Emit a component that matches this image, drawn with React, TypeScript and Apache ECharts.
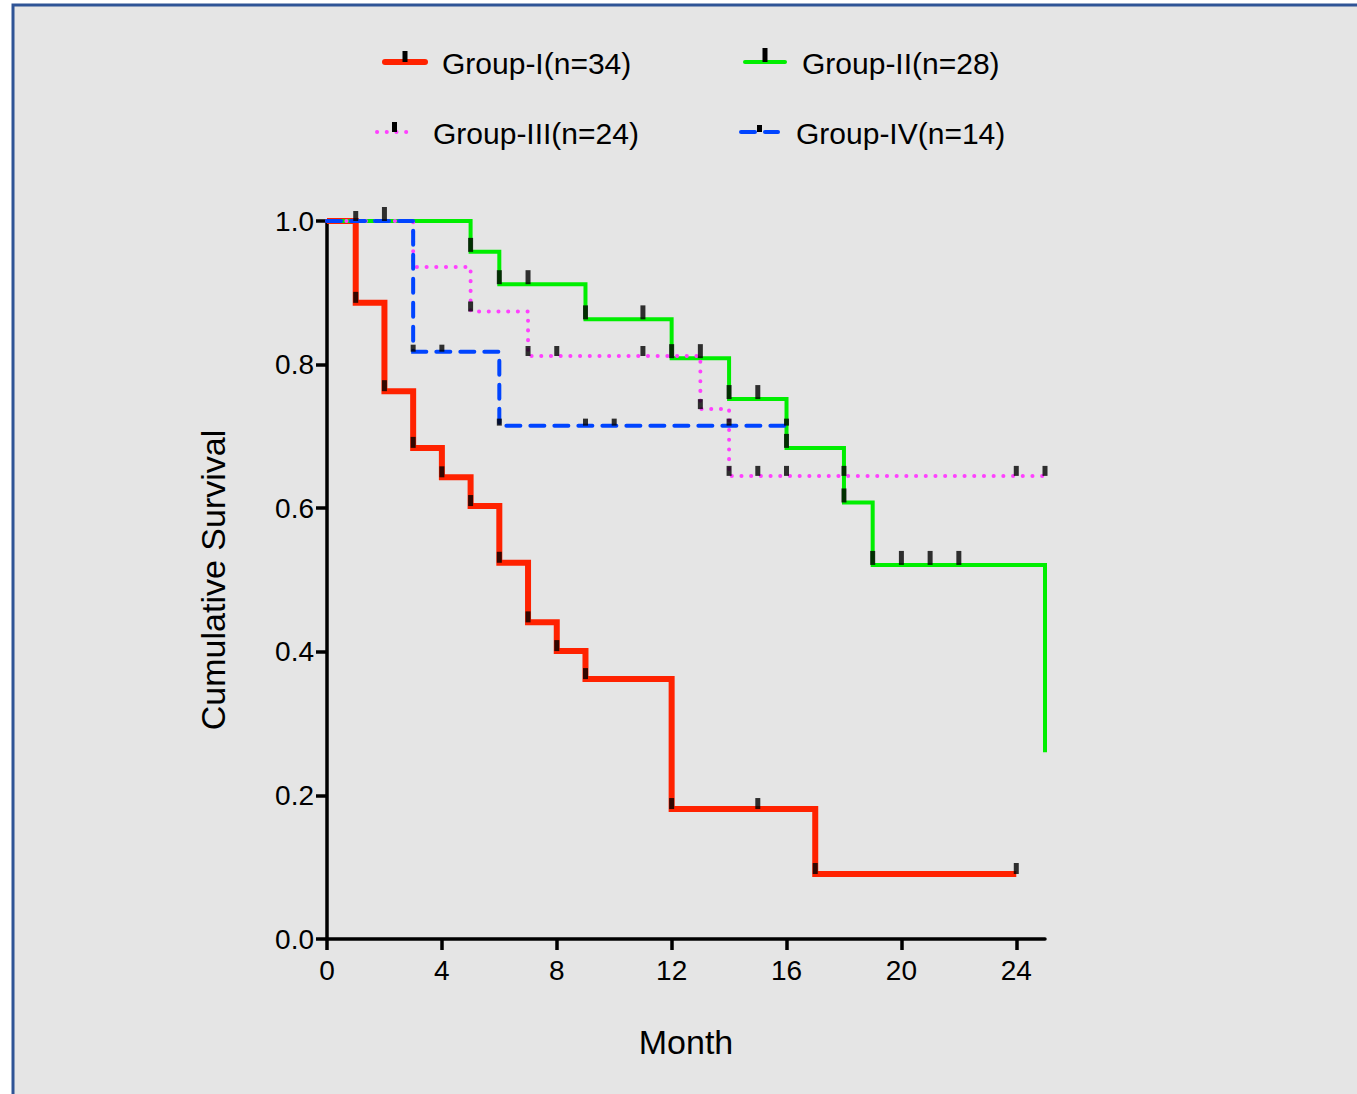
import React, { useEffect, useRef } from "react";
import * as echarts from "echarts";

// ---------- data ----------
const groupNames = ["Group-I(n=34)", "Group-II(n=28)", "Group-III(n=24)", "Group-IV(n=14)"];

// Kaplan-Meier step curves [month, survival]
const curveI = [[0, 1], [1, 0.886], [2, 0.763], [3, 0.684], [4, 0.643], [5, 0.603], [6, 0.524], [7, 0.441], [8, 0.401], [9, 0.362], [12, 0.181], [17, 0.0905], [24, 0.0905]];
const curveII = [[0, 1], [5, 0.957], [6, 0.912], [9, 0.863], [12, 0.809], [14, 0.752], [16, 0.684], [18, 0.608], [19, 0.521], [25, 0.521], [25, 0.26]];
const curveIII = [[0, 1], [3, 0.936], [5, 0.874], [7, 0.812], [13, 0.738], [14, 0.645], [25, 0.645]];
const curveIV = [[0, 1], [3, 0.818], [6, 0.715], [16, 0.715]];

// tick marks (events and censored points) [month, survival]
const marksI = [[1, 0.886], [2, 0.763], [3, 0.684], [4, 0.643], [5, 0.603], [6, 0.524], [7, 0.441], [8, 0.401], [9, 0.362], [12, 0.181], [15, 0.181], [17, 0.0905], [24, 0.0905]];
const marksII = [[2, 1], [5, 0.957], [6, 0.912], [7, 0.912], [9, 0.863], [11, 0.863], [12, 0.809], [13, 0.809], [14, 0.752], [15, 0.752], [16, 0.684], [18, 0.608], [19, 0.521], [20, 0.521], [21, 0.521], [22, 0.521]];
const marksIII = [[1, 1], [5, 0.874], [7, 0.812], [8, 0.812], [11, 0.812], [13, 0.738], [14, 0.645], [15, 0.645], [16, 0.645], [18, 0.645], [24, 0.645], [25, 0.645]];
const marksIV = [[3, 0.818], [4, 0.818], [6, 0.715], [9, 0.715], [10, 0.715], [14, 0.715], [16, 0.715]];

const xTickValues = [0, 4, 8, 12, 16, 20, 24];
const yTickValues = [0, 0.2, 0.4, 0.6, 0.8, 1.0];

const curves = [curveI, curveII, curveIII, curveIV];
const marks = [marksI, marksII, marksIII, marksIV];

// ---------- styles ----------
const colors = ["#ff2200", "#00ee00", "#ff40ff", "#0044ff"];
const widths = [6, 4, 4, 4];
const dashes: any[] = ["solid", "solid", [0.1, 9.6], [14, 10]];
const caps = ["butt", "butt", "round", "round"];
const markHeights = [11, 14, 10, 7];
const FONT = '"Liberation Sans", Arial, Helvetica, sans-serif';

// legend layout
const legendPos = [
  { lx1: 385, lx2: 425, y: 62, tx: 442 },
  { lx1: 745, lx2: 785, y: 62, tx: 802 },
  { lx1: 377, lx2: 412, y: 132, tx: 433 },
  { lx1: 741, lx2: 778, y: 132, tx: 796 },
];

export default function App() {
  const ref = useRef<HTMLDivElement>(null);
  useEffect(() => {
    if (!ref.current) return;
    const chart = echarts.init(ref.current, null, { renderer: "svg" });

    const lineSeries = curves.map((c, i) => ({
      type: "line",
      name: groupNames[i],
      data: c,
      step: "end",
      showSymbol: false,
      symbol: "none",
      clip: false,
      z: 3 + i,
      lineStyle: { color: colors[i], width: widths[i], type: dashes[i], cap: caps[i], join: "miter" },
    }));
    const markSeries = marks.map((m, i) => ({
      type: "scatter",
      name: groupNames[i] + " marks",
      data: m,
      symbol: "rect",
      symbolSize: [5, markHeights[i]],
      symbolOffset: [0, -markHeights[i] / 2],
      clip: false,
      z: 10,
      itemStyle: { color: "#000" },
    }));

    const legendGraphics: any[] = [];
    legendPos.forEach((p, i) => {
      const cx = (p.lx1 + p.lx2) / 2;
      legendGraphics.push({
        type: "line",
        shape: { x1: p.lx1, y1: p.y, x2: p.lx2, y2: p.y },
        style: {
          stroke: colors[i],
          lineWidth: widths[i],
          lineDash: Array.isArray(dashes[i]) ? dashes[i] : null,
          lineCap: "round",
        },
        z: 5,
      });
      legendGraphics.push({
        type: "rect",
        shape: { x: cx - 2.5, y: p.y - markHeights[i], width: 5, height: markHeights[i] },
        style: { fill: "#000" },
        z: 6,
      });
      legendGraphics.push({
        type: "text",
        x: p.tx,
        y: p.y + 1,
        style: { text: groupNames[i], fontSize: 30, fontFamily: FONT, fill: "#000", align: "left", verticalAlign: "middle" },
        z: 6,
      });
    });

    chart.setOption({
      animation: false,
      backgroundColor: "#ffffff",
      graphic: [
        {
          type: "rect",
          shape: { x: 13, y: 5, width: 1400, height: 1200 },
          style: { fill: "#e5e5e5", stroke: "#2f5496", lineWidth: 3 },
          z: -10,
        },
        ...legendGraphics,
      ],
      grid: { left: 327, top: 221, width: 718, height: 718 },
      xAxis: {
        type: "value",
        min: 0,
        max: 25,
        interval: 4,
        name: "Month",
        nameLocation: "middle",
        nameGap: 86,
        nameTextStyle: { fontSize: 34, fontFamily: FONT, color: "#000" },
        axisLine: { show: true, lineStyle: { color: "#000", width: 3.5 } },
        axisTick: { show: true, length: 11, lineStyle: { color: "#000", width: 3.5 }, customValues: xTickValues },
        axisLabel: { fontSize: 28, fontFamily: FONT, color: "#000", margin: 17, customValues: xTickValues },
        splitLine: { show: false },
      },
      yAxis: {
        type: "value",
        min: 0,
        max: 1,
        interval: 0.2,
        name: "Cumulative Survival",
        nameLocation: "middle",
        nameGap: 97,
        nameTextStyle: { fontSize: 34, fontFamily: FONT, color: "#000" },
        axisLine: { show: true, lineStyle: { color: "#000", width: 3.5 } },
        axisTick: { show: true, length: 11, lineStyle: { color: "#000", width: 3.5 }, customValues: yTickValues },
        axisLabel: {
          fontSize: 28,
          fontFamily: FONT,
          color: "#000",
          margin: 13,
          customValues: yTickValues,
          formatter: (v: number) => v.toFixed(1),
        },
        splitLine: { show: false },
      },
      series: [...lineSeries, ...markSeries],
    });
    return () => chart.dispose();
  }, []);
  return <div ref={ref} style={{ position: "fixed", left: 0, top: 0, width: 1357, height: 1094 }} />;
}
